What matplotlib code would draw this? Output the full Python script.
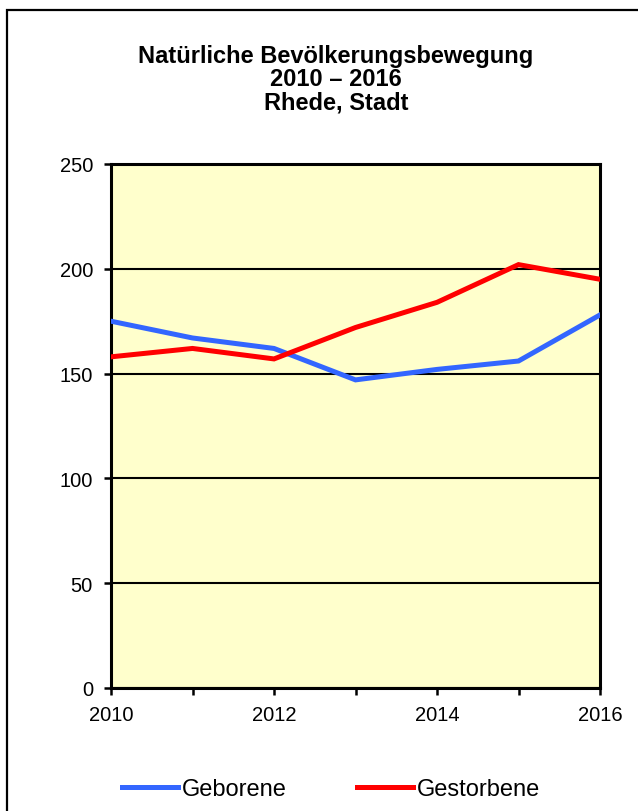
import matplotlib.pyplot as plt
from matplotlib.patches import Rectangle

plt.rcParams['font.family'] = ['Liberation Sans', 'DejaVu Sans']

years = [2010, 2011, 2012, 2013, 2014, 2015, 2016]
geborene = [175, 167, 162, 147, 152, 156, 178]
gestorbene = [158, 162, 157, 172, 184, 202, 195]
yticks = [0, 50, 100, 150, 200, 250]
title = "Natürliche Bevölkerungsbewegung\n2010 – 2016\nRhede, Stadt"

W, H = 638, 812
fig = plt.figure(figsize=(W / 100, H / 100), dpi=100)

# outer frame (right and bottom edges fall outside the picture)
fig.patches.append(Rectangle((7 / W, -0.05), 1.1, 1 - 11 / H + 0.05,
                             transform=fig.transFigure, fill=False,
                             edgecolor='black', linewidth=1.6))

ax = fig.add_axes([111 / W, 1 - 689 / H, (600 - 111) / W, (689 - 165) / H])
ax.set_facecolor('#FFFFCC')

ax.plot(years, geborene, color='#3366FF', lw=3.6, label='Geborene',
        solid_joinstyle='miter', zorder=3)
ax.plot(years, gestorbene, color='#FF0000', lw=3.6, label='Gestorbene',
        solid_joinstyle='miter', zorder=3)

ax.set_xlim(2010, 2016)
ax.set_ylim(0, 250)
ax.set_xticks(years)
ax.set_xticklabels([str(y) if y % 2 == 0 else '' for y in years])
ax.set_yticks(yticks)
ax.grid(axis='y', color='black', lw=1.5)
ax.set_axisbelow(True)
for s in ax.spines.values():
    s.set_linewidth(2.2)
ax.tick_params(direction='out', length=5, width=1.8, labelsize=14.5)
ax.tick_params(axis='y', pad=8)
ax.tick_params(axis='x', pad=7)

fig.text(336 / W, 1 - 80 / H, title, ha='center', va='center',
         fontsize=17, fontweight='bold', linespacing=1.0)

fig.legend(loc='center', bbox_to_anchor=(331 / W, 1 - 790 / H), ncol=2,
           frameon=False, fontsize=17, handlelength=2.35, handletextpad=0.17,
           columnspacing=3.0)

fig.savefig('out.png', dpi=100)
